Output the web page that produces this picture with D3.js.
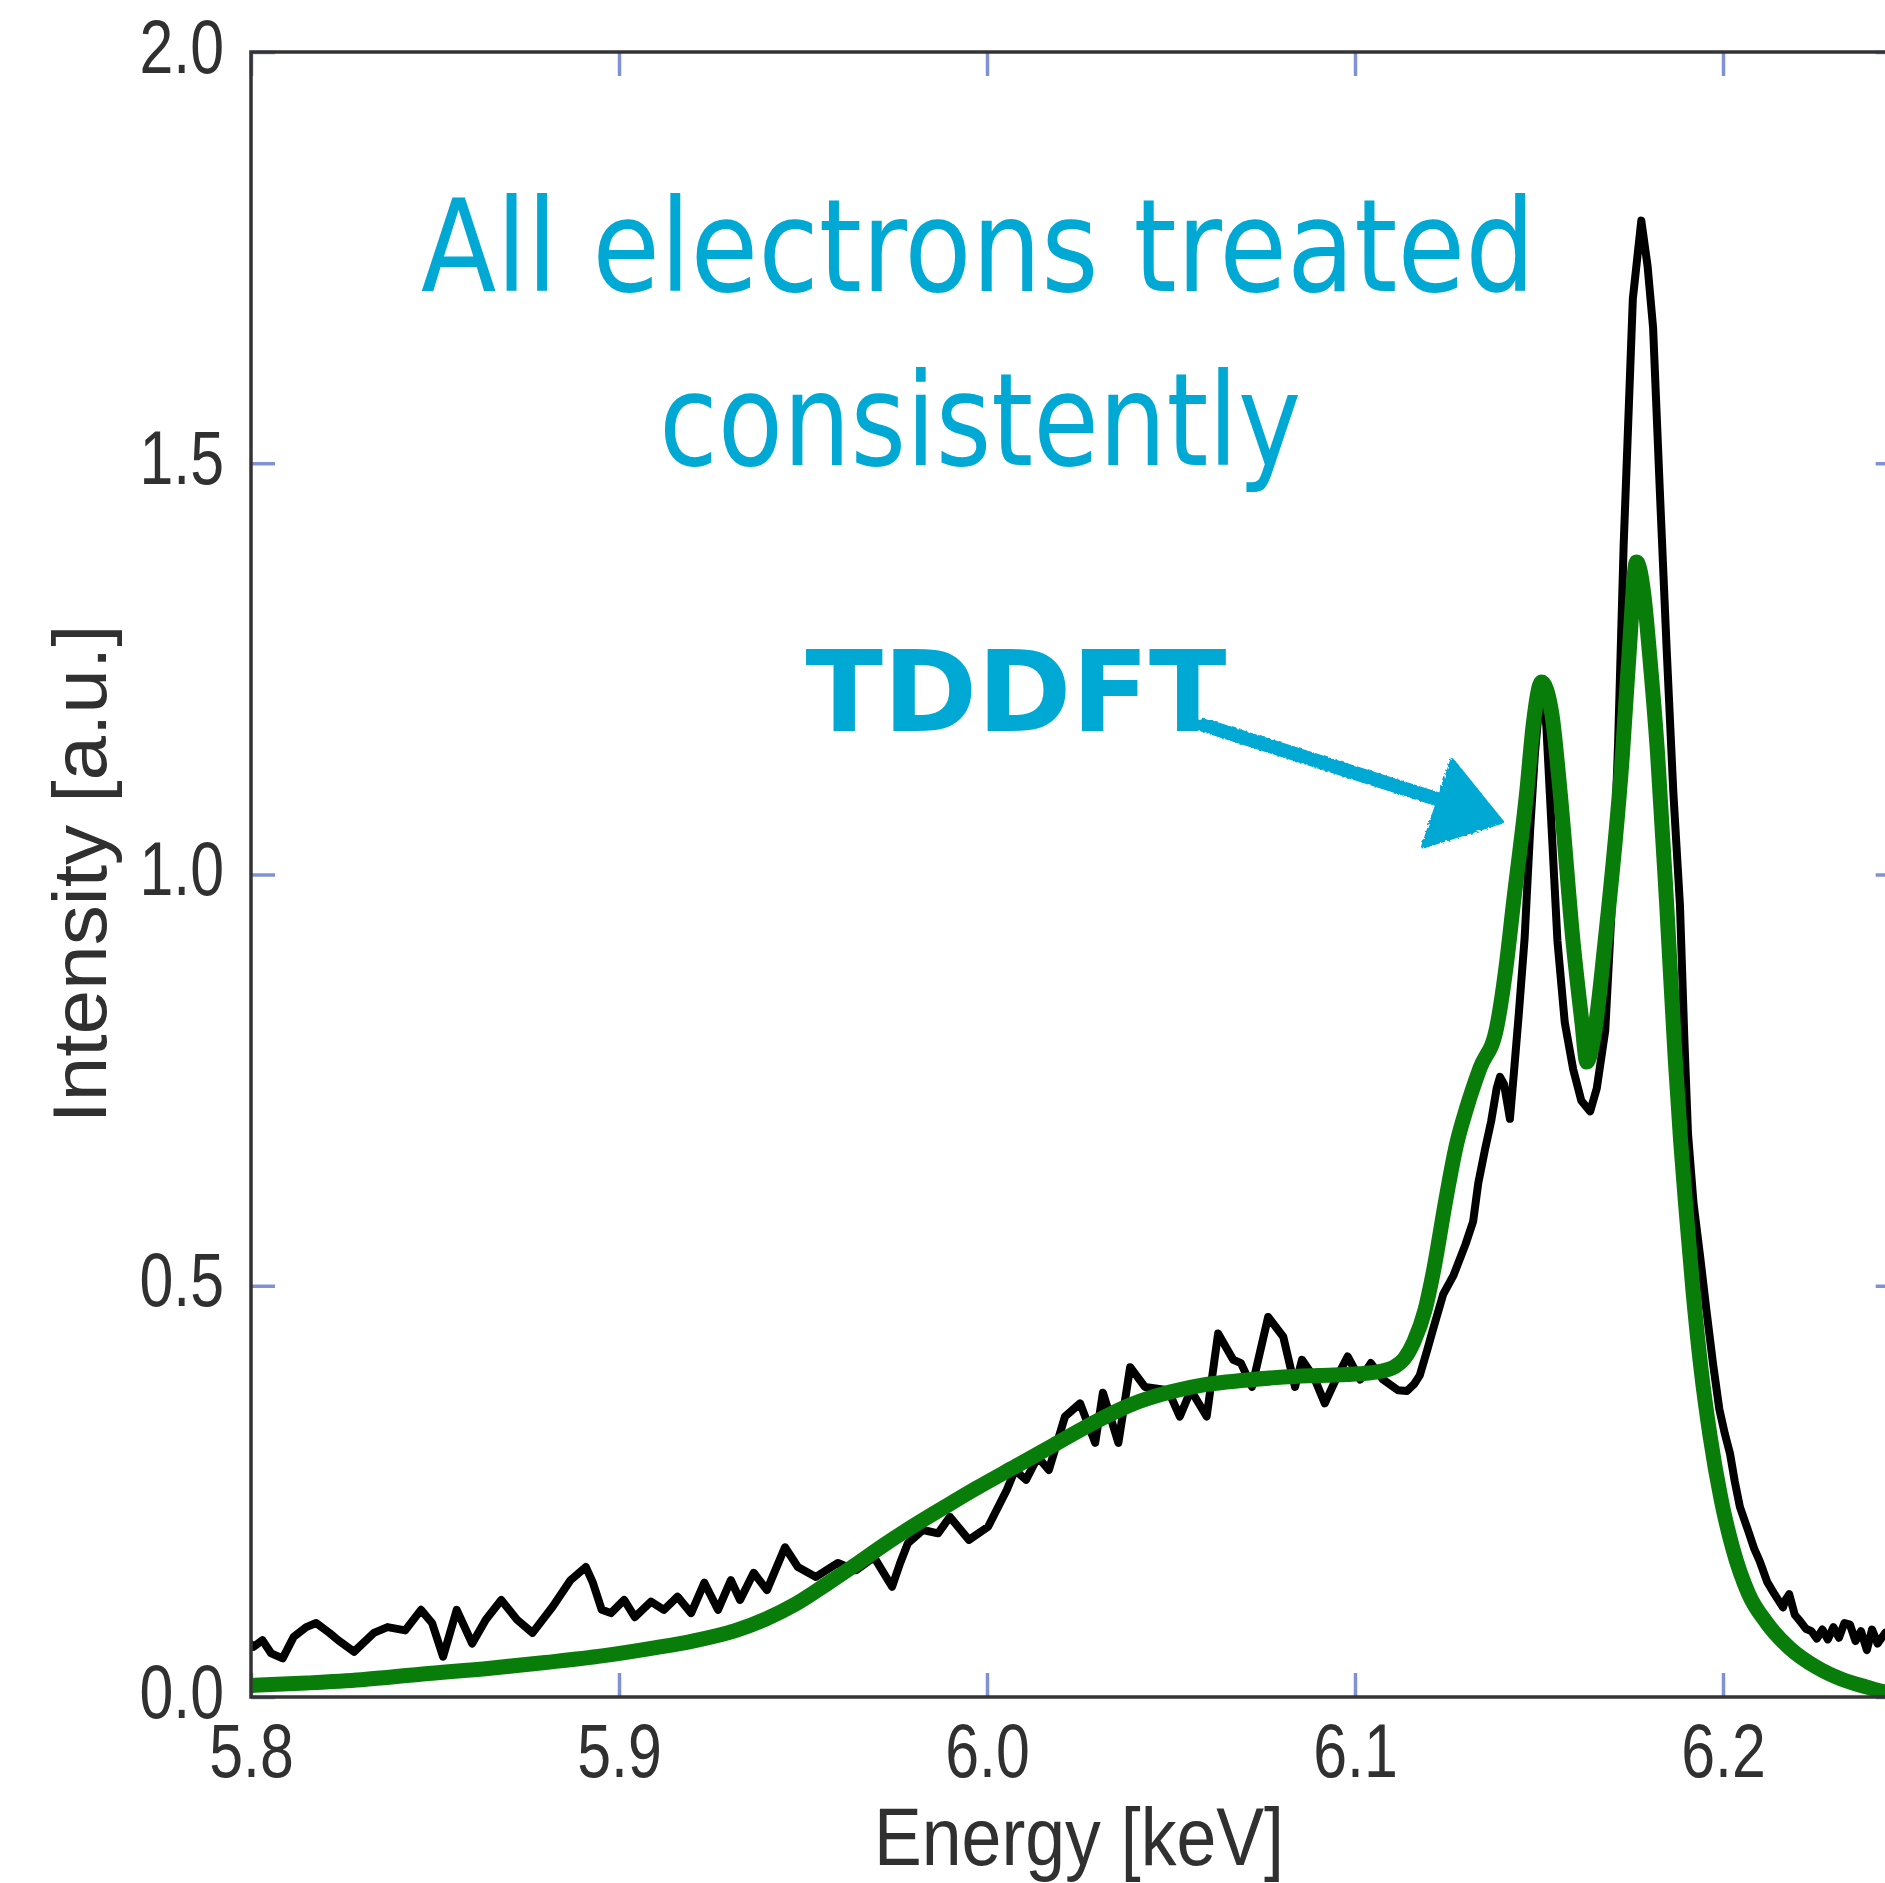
<!DOCTYPE html>
<html><head><meta charset="utf-8">
<script src="https://cdn.jsdelivr.net/npm/d3@7"></script>
<style>html,body{margin:0;padding:0;background:#fff;} svg{display:block;}</style>
</head><body>
<script>
// ---------- data ----------
const energyTicks = [5.8, 5.9, 6.0, 6.1, 6.2];
const intensityTicks = [0.0, 0.5, 1.0, 1.5, 2.0];

const expEnergy = [5.8000,5.8007,5.8031,5.8055,5.8086,5.8116,5.8150,5.8177,5.8213,5.8237,5.8280,5.8334,5.8371,5.8419,5.8462,5.8492,5.8522,5.8559,5.8601,5.8638,5.8680,5.8723,5.8765,5.8820,5.8868,5.8910,5.8929,5.8953,5.8978,5.9014,5.9043,5.9087,5.9122,5.9159,5.9196,5.9232,5.9269,5.9304,5.9329,5.9366,5.9402,5.9451,5.9486,5.9535,5.9595,5.9644,5.9693,5.9742,5.9764,5.9785,5.9826,5.9867,5.9899,5.9951,6.0003,6.0054,6.0076,6.0106,6.0138,6.0168,6.0212,6.0253,6.0294,6.0315,6.0357,6.0389,6.0429,6.0492,6.0524,6.0554,6.0597,6.0628,6.0669,6.0690,6.0720,6.0764,6.0805,6.0837,6.0856,6.0888,6.0918,6.0951,6.0980,6.1014,6.1043,6.1076,6.1117,6.1141,6.1160,6.1176,6.1195,6.1212,6.1240,6.1268,6.1300,6.1321,6.1335,6.1353,6.1370,6.1385,6.1394,6.1405,6.1421,6.1432,6.1445,6.1461,6.1476,6.1489,6.1507,6.1520,6.1535,6.1550,6.1570,6.1593,6.1615,6.1639,6.1657,6.1680,6.1700,6.1715,6.1730,6.1755,6.1778,6.1795,6.1810,6.1828,6.1847,6.1865,6.1883,6.1895,6.1905,6.1920,6.1938,6.1955,6.1973,6.1990,6.2005,6.2019,6.2032,6.2046,6.2070,6.2085,6.2100,6.2120,6.2140,6.2163,6.2170,6.2180,6.2195,6.2210,6.2225,6.2240,6.2255,6.2270,6.2285,6.2300,6.2315,6.2330,6.2345,6.2360,6.2375,6.2391,6.2405,6.2420,6.2441,6.2460];
const expIntensity = [0.064,0.061,0.069,0.053,0.047,0.073,0.085,0.090,0.078,0.069,0.055,0.078,0.085,0.081,0.106,0.090,0.049,0.106,0.065,0.094,0.118,0.094,0.078,0.110,0.142,0.158,0.139,0.106,0.102,0.118,0.097,0.116,0.106,0.122,0.102,0.139,0.106,0.142,0.118,0.151,0.130,0.182,0.158,0.146,0.163,0.154,0.170,0.134,0.163,0.187,0.203,0.199,0.219,0.191,0.207,0.252,0.276,0.264,0.292,0.276,0.341,0.357,0.309,0.370,0.309,0.401,0.377,0.373,0.341,0.373,0.341,0.442,0.410,0.406,0.377,0.462,0.438,0.377,0.410,0.389,0.357,0.389,0.414,0.386,0.406,0.386,0.373,0.372,0.380,0.391,0.420,0.447,0.490,0.513,0.550,0.578,0.625,0.665,0.700,0.740,0.754,0.745,0.703,0.760,0.830,0.923,1.055,1.148,1.235,1.180,1.050,0.920,0.820,0.763,0.725,0.712,0.740,0.810,0.980,1.160,1.400,1.700,1.795,1.740,1.665,1.470,1.273,1.100,0.963,0.800,0.684,0.600,0.535,0.470,0.405,0.350,0.320,0.296,0.262,0.231,0.200,0.180,0.165,0.140,0.125,0.109,0.118,0.125,0.100,0.092,0.083,0.080,0.071,0.082,0.070,0.085,0.072,0.090,0.088,0.068,0.080,0.057,0.082,0.065,0.078,0.070];

const tddftEnergy = [5.8000,5.8150,5.8300,5.8467,5.8650,5.8800,5.8954,5.9100,5.9200,5.9318,5.9400,5.9480,5.9560,5.9640,5.9717,5.9800,5.9900,5.9972,6.0080,6.0180,6.0284,6.0389,6.0500,6.0596,6.0700,6.0805,6.0900,6.1014,6.1070,6.1106,6.1135,6.1160,6.1190,6.1212,6.1249,6.1276,6.1304,6.1340,6.1385,6.1412,6.1430,6.1467,6.1485,6.1507,6.1535,6.1557,6.1593,6.1616,6.1630,6.1648,6.1679,6.1727,6.1745,6.1765,6.1785,6.1800,6.1822,6.1847,6.1870,6.1885,6.1900,6.1919,6.1940,6.1965,6.1995,6.2027,6.2070,6.2119,6.2180,6.2255,6.2320,6.2391,6.2441,6.2500];
const tddftIntensity = [0.014,0.017,0.021,0.028,0.035,0.042,0.050,0.060,0.068,0.081,0.095,0.113,0.136,0.160,0.184,0.208,0.235,0.254,0.281,0.306,0.332,0.355,0.371,0.380,0.385,0.389,0.391,0.393,0.396,0.401,0.412,0.432,0.470,0.515,0.610,0.672,0.717,0.765,0.814,0.893,0.963,1.102,1.185,1.234,1.195,1.102,0.916,0.823,0.772,0.800,0.916,1.148,1.270,1.380,1.340,1.270,1.148,0.963,0.777,0.675,0.590,0.491,0.400,0.317,0.240,0.180,0.125,0.090,0.060,0.036,0.022,0.012,0.006,0.002];

// annotation arrow, in data units (energy, intensity)
const arrowShaft = [[6.0587, 1.182], [6.1235, 1.090]];
const arrowHead = [[6.1264, 1.139], [6.1399, 1.064], [6.1185, 1.034]];

const xLabel = "Energy [keV]";
const yLabel = "Intensity [a.u.]";
const noteLine1 = "All electrons treated";
const noteLine2 = "consistently";
const noteTag = "TDDFT";

// ---------- layout ----------
const W = 1885, H = 1883;
const m = {left: 251, top: 52};
const xMax = 6.248;
const plotW = (xMax - 5.8) * 3680, plotH = 1645;
const tickCol = "#8192d4", frameCol = "#333333", textCol = "#303030";
const cyan = "#00a9d4";
const tickFont = "'Liberation Sans', Arial, Helvetica, sans-serif";

const svg = d3.select("body").append("svg").attr("width", W).attr("height", H);
svg.append("rect").attr("width", W).attr("height", H).attr("fill", "#fff");

const x = d3.scaleLinear().domain([5.8, xMax]).range([0, plotW]);
const y = d3.scaleLinear().domain([0, 2]).range([plotH, 0]);

const defs = svg.append("defs");
defs.append("clipPath").attr("id", "clip")
  .append("rect").attr("x", 0).attr("y", -10).attr("width", plotW).attr("height", plotH + 10);
const rough = defs.append("filter").attr("id", "rough").attr("x", "-10%").attr("y", "-20%").attr("width", "120%").attr("height", "140%");
rough.append("feTurbulence").attr("type", "fractalNoise").attr("baseFrequency", 0.35).attr("numOctaves", 2).attr("seed", 3).attr("result", "n");
rough.append("feDisplacementMap").attr("in", "SourceGraphic").attr("in2", "n").attr("scale", 4);

const g = svg.append("g").attr("transform", `translate(${m.left},${m.top})`);

// axes (inward ticks)
const fmt = d3.format(".1f");
const xb = g.append("g").attr("transform", `translate(0,${plotH})`)
  .call(d3.axisBottom(x).tickValues(energyTicks).tickFormat(fmt).tickSizeInner(-24).tickSizeOuter(0));
const xt = g.append("g")
  .call(d3.axisTop(x).tickValues(energyTicks).tickFormat("").tickSizeInner(-24).tickSizeOuter(0));
const yl = g.append("g")
  .call(d3.axisLeft(y).tickValues(intensityTicks).tickFormat(fmt).tickSizeInner(-24).tickSizeOuter(0));
const yr = g.append("g").attr("transform", `translate(${plotW},0)`)
  .call(d3.axisRight(y).tickValues(intensityTicks).tickFormat("").tickSizeInner(-24).tickSizeOuter(0));

[xb, xt, yl, yr].forEach(a => {
  a.select(".domain").remove();
  a.selectAll(".tick line").attr("stroke", tickCol).attr("stroke-width", 3.5);
});
const sx = 0.8;
xb.selectAll(".tick text")
  .attr("y", 80).attr("dy", 0)
  .attr("font-family", tickFont).attr("font-size", 76).attr("fill", textCol)
  .attr("transform", `scale(${sx},1)`);
yl.selectAll(".tick text")
  .attr("x", -27 / sx).attr("y", 20).attr("dy", 0)
  .attr("font-family", tickFont).attr("font-size", 76).attr("fill", textCol)
  .attr("transform", `scale(${sx},1)`);

// data lines
const plot = g.append("g").attr("clip-path", "url(#clip)");
const expData = expEnergy.map((e, i) => [e, expIntensity[i]]);
const tdData = tddftEnergy.map((e, i) => [e, tddftIntensity[i]]);

plot.append("path").datum(expData)
  .attr("fill", "none").attr("stroke", "#000").attr("stroke-width", 8)
  .attr("stroke-linejoin", "round").attr("stroke-linecap", "round")
  .attr("d", d3.line().x(d => x(d[0])).y(d => y(d[1])));

plot.append("path").datum(tdData)
  .attr("fill", "none").attr("stroke", "#097d09").attr("stroke-width", 15)
  .attr("stroke-linejoin", "round").attr("stroke-linecap", "round")
  .attr("d", d3.line().x(d => x(d[0])).y(d => y(d[1])).curve(d3.curveMonotoneX));

// frame
g.append("rect").attr("x", 0).attr("y", 0).attr("width", plotW).attr("height", plotH)
  .attr("fill", "none").attr("stroke", frameCol).attr("stroke-width", 3.5);

// axis labels
svg.append("text").attr("x", 1079).attr("y", 1865).attr("text-anchor", "middle")
  .attr("font-family", tickFont).attr("font-size", 82).attr("fill", textCol)
  .attr("textLength", 410).attr("lengthAdjust", "spacingAndGlyphs")
  .text(xLabel);
svg.append("text").attr("transform", "translate(106,874) rotate(-90)").attr("text-anchor", "middle")
  .attr("font-family", tickFont).attr("font-size", 76).attr("fill", textCol)
  .attr("textLength", 499).attr("lengthAdjust", "spacingAndGlyphs")
  .text(yLabel);

// annotations
const noteFont = "'DejaVu Sans Condensed', 'DejaVu Sans', sans-serif";
svg.append("text").attr("x", 978).attr("y", 291).attr("text-anchor", "middle")
  .attr("font-family", noteFont).attr("font-stretch", "condensed").attr("font-size", 128).attr("fill", cyan)
  .attr("textLength", 1114).attr("lengthAdjust", "spacingAndGlyphs").text(noteLine1);
svg.append("text").attr("x", 980).attr("y", 465).attr("text-anchor", "middle")
  .attr("font-family", noteFont).attr("font-stretch", "condensed").attr("font-size", 128).attr("fill", cyan)
  .attr("textLength", 642).attr("lengthAdjust", "spacingAndGlyphs").text(noteLine2);
svg.append("text").attr("x", 1016).attr("y", 731).attr("text-anchor", "middle")
  .attr("font-family", "'DejaVu Sans', sans-serif").attr("font-weight", "bold").attr("font-size", 112).attr("fill", cyan)
  .attr("textLength", 421).attr("lengthAdjust", "spacingAndGlyphs").text(noteTag);

const arrowG = g.append("g").attr("filter", "url(#rough)");
arrowG.append("path").datum(arrowShaft)
  .attr("fill", "none").attr("stroke", cyan).attr("stroke-width", 14).attr("stroke-linecap", "round")
  .attr("d", d3.line().x(d => x(d[0])).y(d => y(d[1])));
arrowG.append("path").datum(arrowHead)
  .attr("fill", cyan).attr("stroke", cyan).attr("stroke-width", 4).attr("stroke-linejoin", "round")
  .attr("d", d3.line().x(d => x(d[0])).y(d => y(d[1])).curve(d3.curveLinearClosed));
</script>
</body></html>
